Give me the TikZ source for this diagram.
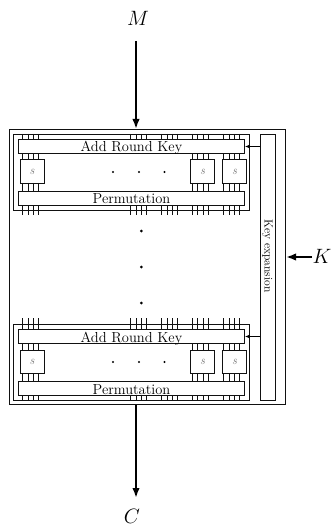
\documentclass[tikz,border=0pt]{standalone}
\usepackage{tikz}
\usetikzlibrary{arrows.meta,positioning}
\usepackage{xcolor}
\definecolor{ink}{HTML}{111111}
\tikzset{
  base/.style={draw=ink,line width=1pt,fill=white,inner sep=0pt},
  layer/.style={base,minimum width=226pt,minimum height=14pt,text height=11pt,text depth=0pt,font=\fontsize{14.5}{15}\selectfont},
  sbox/.style={base,minimum width=24pt,minimum height=23.5pt,font=\fontsize{12}{13}\selectfont\itshape\color{ink!60}},
  roundbox/.style={draw=ink,line width=1pt},
  dotmark/.style={circle,fill=black,inner sep=0pt,minimum size=3pt},
  label/.style={font=\fontsize{20}{22}\selectfont,inner sep=0pt},
  wire/.style={draw=ink,line width=.9pt},
  flow/.style={-{Latex[length=10pt,width=7.5pt]},line width=2.7pt,draw=black},
  feed/.style={-{Latex[length=4.5pt,width=4pt]},line width=.9pt,draw=black}
}
\begin{document}
\begin{tikzpicture}[x=1pt,y=-1pt]
\useasboundingbox (0,0) rectangle (331,526);
\node[base,fill=none,minimum width=276pt,minimum height=275pt,anchor=north west] (main) at (9,129) {};
\node[base,minimum width=15pt,minimum height=266pt,anchor=north west] (kexp) at (260,134) {};
\node[rotate=-90,font=\fontsize{11.7}{12}\selectfont,inner sep=0pt] (ktext) at (267.5,256) {Key expansion};
% the two rounds
\foreach \r/\t/\u/\b in {1/134/134/215,2/324/318/400}{
  \node[roundbox,minimum width=236pt,minimum height=76pt,inner sep=0pt,anchor=north west] (rnd\r) at (13,\t) {};
  \node[layer,anchor=north west] (ark\r) at (18,\t+5) {Add Round Key};
  \node[sbox,anchor=north west] (sa\r) at (19.5,\t+25.5) {s};
  \node[sbox,right=145.5pt of sa\r] (sb\r) {s};
  \node[sbox,right=7pt of sb\r] (sc\r) {s};
  \node[layer,anchor=north west] (perm\r) at (18,\t+57) {Permutation};
  \foreach \x in {22.7,28,33.3,38.7,130.7,136,141.3,146.7,161.7,167,172.3,177.7,192.3,197.7,203,208.3,223.7,229,234.3,239.7}{
    \draw[wire] (\x,\u) -- (\x,0 |- ark\r.north);
    \draw[wire] (\x,0 |- perm\r.south) -- (\x,\b);
  }
  \foreach \x in {22.7,28,33.3,38.7,192.3,197.7,203,208.3,223.7,229,234.3,239.7}{
    \draw[wire] (\x,0 |- ark\r.south) -- (\x,\t+25.5);
    \draw[wire] (\x,\t+49) -- (\x,0 |- perm\r.north);
  }
  \foreach \x in {113,139,164.5}
    \node[dotmark,minimum size=2.4pt] (d\r\x) at (\x,\t+38) {};
  \draw[feed] (kexp.west |- ark\r.east) -- (ark\r.east);
}
\foreach \y in {231,267,303}
  \node[dotmark] (v\y) at (141.3,\y) {};
\node[label] (M) at (138,18) {$M$};
\node[label] (C) at (132,516) {$C$};
\node[label] (K) at (322,256) {$K$};
\coordinate (mtail) at (136,41);
\coordinate (chead) at (136,498);
\coordinate (ktail) at (312,257);
\draw[flow] (mtail) -- (mtail |- main.north);
\draw[flow] (chead |- main.south) -- (chead);
\draw[flow] (ktail) -- (ktail -| main.east);
\end{tikzpicture}
\end{document}
